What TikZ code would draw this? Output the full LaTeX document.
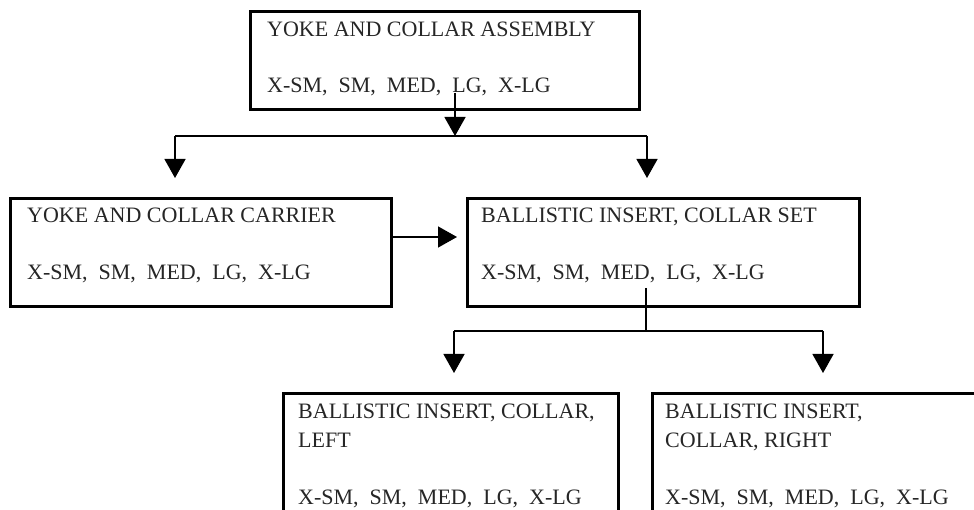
\documentclass[tikz,border=0pt]{standalone}
\usepackage{fontspec}
\setmainfont{Liberation Serif}
\usetikzlibrary{arrows.meta}
\begin{document}
\begin{tikzpicture}[x=1pt,y=-1pt,
  box/.style={draw, line width=3pt, inner sep=0pt, outer sep=0pt, anchor=north west},
  lbl/.style={anchor=base west, inner sep=0pt, text=black!85, font=\fontsize{22}{28}\selectfont},
  conn/.style={line width=1.4pt},
  arr/.style={conn, -{Triangle[width=21pt,length=19pt]}}]
\useasboundingbox (0,0) rectangle (974,510);
\clip (0,0) rectangle (974,510);
\fill[white] (0,0) rectangle (974,510);
% boxes
\node[box, minimum width=389pt, minimum height=98pt] (top) at (250,12) {};
\node[box, minimum width=381pt, minimum height=108pt] (carrier) at (10,199) {};
\node[box, minimum width=392pt, minimum height=108pt] (collarset) at (467,199) {};
\node[box, minimum width=335pt, minimum height=118pt] (bl) at (283,393) {};
\node[box, minimum width=340pt, minimum height=118pt] (br) at (652,393) {};
% texts
\node[lbl] (t1a) at (267,37) {YOKE AND COLLAR ASSEMBLY};
\node[lbl] (t1b) at (267,93) {X-SM,\ \ SM,\ \ MED,\ \ LG,\ \ X-LG};
\node[lbl] (t2a) at (27,223) {YOKE AND COLLAR CARRIER};
\node[lbl] (t2b) at (27,280) {X-SM,\ \ SM,\ \ MED,\ \ LG,\ \ X-LG};
\node[lbl] (t3a) at (481,223) {BALLISTIC INSERT, COLLAR SET};
\node[lbl] (t3b) at (481,280) {X-SM,\ \ SM,\ \ MED,\ \ LG,\ \ X-LG};
\node[lbl] (t4a) at (298,418) {BALLISTIC INSERT, COLLAR,};
\node[lbl] (t4b) at (298,447) {LEFT};
\node[lbl] (t4c) at (298,504) {X-SM,\ \ SM,\ \ MED,\ \ LG,\ \ X-LG};
\node[lbl] (t5a) at (665,418) {BALLISTIC INSERT,};
\node[lbl] (t5b) at (665,447) {COLLAR, RIGHT};
\node[lbl] (t5c) at (665,504) {X-SM,\ \ SM,\ \ MED,\ \ LG,\ \ X-LG};
% connector coordinates
\coordinate (topsrc) at (455,93);
\coordinate (j1) at (455,136);
\coordinate (h1l) at (175,136);
\coordinate (h1r) at (647,136);
\coordinate (tipc) at (175,178);
\coordinate (tips) at (647,178);
\coordinate (a2s) at (391,237);
\coordinate (a2t) at (457,237);
\coordinate (midsrc) at (646,288);
\coordinate (j2) at (646,331);
\coordinate (h2l) at (454,331);
\coordinate (h2r) at (823,331);
\coordinate (tipl) at (454,373);
\coordinate (tipr) at (823,373);
% connectors
\draw[arr] (topsrc) -- (j1);
\draw[conn] (h1l) -- (h1r);
\draw[arr] (h1l) -- (tipc);
\draw[arr] (h1r) -- (tips);
\draw[arr] (a2s) -- (a2t);
\draw[conn] (midsrc) -- (j2);
\draw[conn] (h2l) -- (h2r);
\draw[arr] (h2l) -- (tipl);
\draw[arr] (h2r) -- (tipr);
\end{tikzpicture}
\end{document}
